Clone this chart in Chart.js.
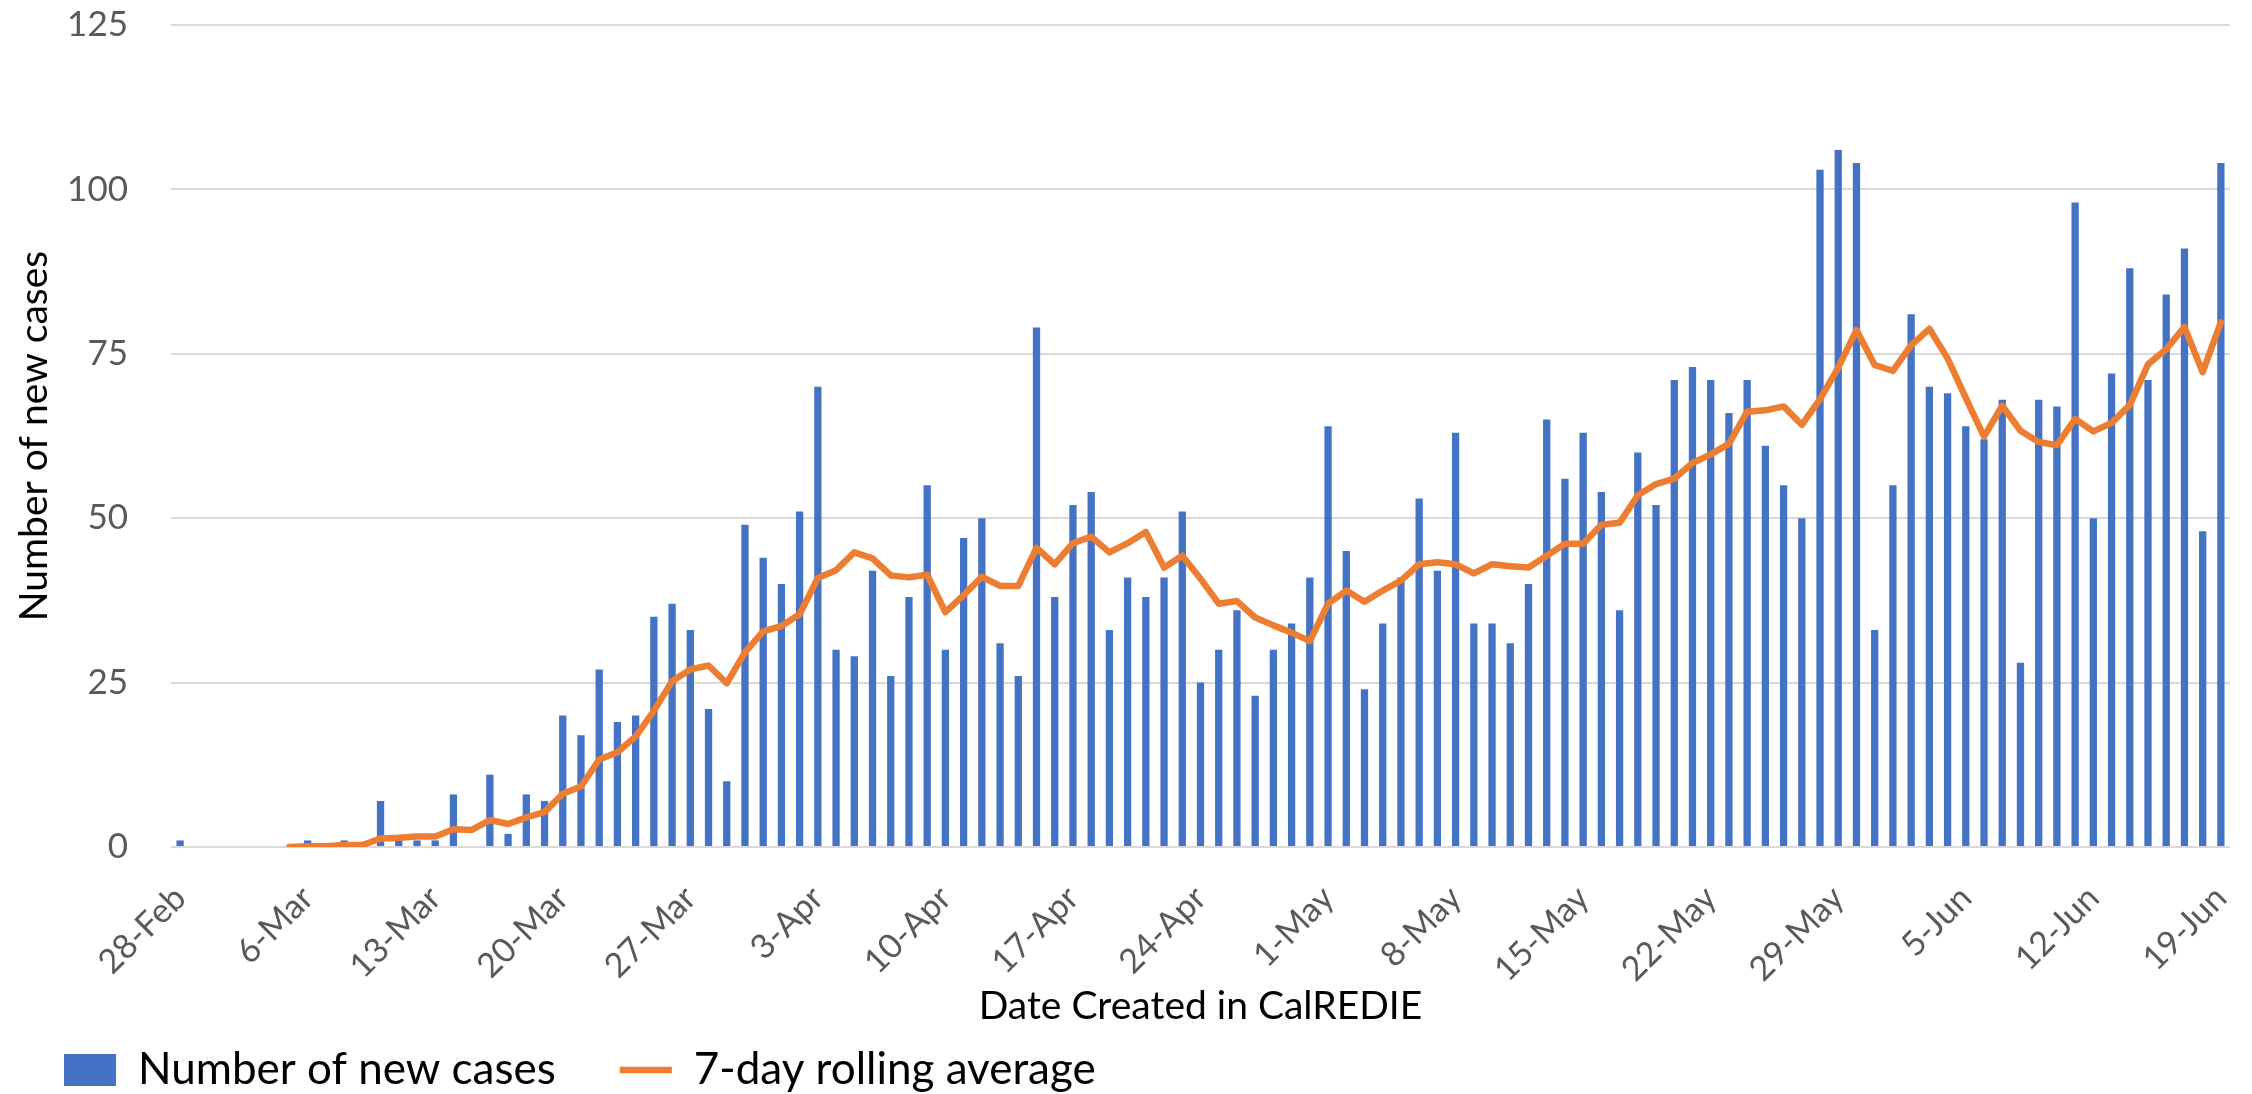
<!DOCTYPE html>
<html>
<head>
<meta charset="utf-8">
<title>New cases by date created</title>
<script src="https://cdn.jsdelivr.net/npm/chart.js@4.4.1/dist/chart.umd.min.js"></script>
<style>
  html, body { margin: 0; padding: 0; background: #fff; }
  #wrap { width: 2252px; height: 1094px; }
</style>
</head>
<body>
<div id="wrap"><canvas id="myChart"></canvas></div>
<script>
const dateLabels = [
  "28-Feb", "29-Feb",
  "1-Mar", "2-Mar", "3-Mar", "4-Mar", "5-Mar", "6-Mar", "7-Mar", "8-Mar", "9-Mar", "10-Mar",
  "11-Mar", "12-Mar", "13-Mar", "14-Mar", "15-Mar", "16-Mar", "17-Mar", "18-Mar", "19-Mar", "20-Mar",
  "21-Mar", "22-Mar", "23-Mar", "24-Mar", "25-Mar", "26-Mar", "27-Mar", "28-Mar", "29-Mar", "30-Mar", "31-Mar",
  "1-Apr", "2-Apr", "3-Apr", "4-Apr", "5-Apr", "6-Apr", "7-Apr", "8-Apr", "9-Apr", "10-Apr",
  "11-Apr", "12-Apr", "13-Apr", "14-Apr", "15-Apr", "16-Apr", "17-Apr", "18-Apr", "19-Apr", "20-Apr",
  "21-Apr", "22-Apr", "23-Apr", "24-Apr", "25-Apr", "26-Apr", "27-Apr", "28-Apr", "29-Apr", "30-Apr",
  "1-May", "2-May", "3-May", "4-May", "5-May", "6-May", "7-May", "8-May", "9-May", "10-May",
  "11-May", "12-May", "13-May", "14-May", "15-May", "16-May", "17-May", "18-May", "19-May", "20-May",
  "21-May", "22-May", "23-May", "24-May", "25-May", "26-May", "27-May", "28-May", "29-May", "30-May", "31-May",
  "1-Jun", "2-Jun", "3-Jun", "4-Jun", "5-Jun", "6-Jun", "7-Jun", "8-Jun", "9-Jun", "10-Jun",
  "11-Jun", "12-Jun", "13-Jun", "14-Jun", "15-Jun", "16-Jun", "17-Jun", "18-Jun", "19-Jun"
]

const newCases = [
  1, 0,
  0, 0, 0, 0, 0, 1, 0, 1, 0, 7, 1, 1, 1, 8, 0, 11, 2, 8, 7, 20, 17, 27, 19, 20, 35, 37, 33, 21, 10, 49, 44,
  40, 51, 70, 30, 29, 42, 26, 38, 55, 30, 47, 50, 31, 26, 79, 38, 52, 54, 33, 41, 38, 41, 51, 25, 30, 36, 23, 30, 34, 41,
  64, 45, 24, 34, 41, 53, 42, 63, 34, 34, 31, 40, 65, 56, 63, 54, 36, 60, 52, 71, 73, 71, 66, 71, 61, 55, 50, 103, 106, 104, 33,
  55, 81, 70, 69, 64, 62, 68, 28, 68, 67, 98, 50, 72, 88, 71, 84, 91, 48, 104
]

const rollingAvg = [
  null, null,
  null, null, null, null, 0, 0.1, 0.1, 0.3, 0.3, 1.3, 1.4, 1.6, 1.6, 2.7, 2.6, 4.1, 3.5, 4.5, 5.3, 8.1,
  9.2, 13.3, 14.4, 16.8, 20.7, 25.2, 27.0, 27.6, 24.9, 29.6, 32.8,
  33.6, 35.4, 40.9, 42.1, 44.8, 43.9, 41.3, 41.0, 41.4, 35.7, 38.3, 41.1, 39.7, 39.7, 45.5, 43.0, 46.2, 47.2, 44.8, 46.2,
  47.9, 42.5, 44.3, 40.8, 37.0, 37.4, 34.9, 33.7, 32.6, 31.3,
  37.0, 39.0, 37.3, 39.0, 40.5, 43.0, 43.3, 43.0, 41.6, 43.0, 42.7, 42.5, 44.3, 46.1, 46.1, 49.0, 49.3, 53.5, 55.2, 56.0,
  58.4, 59.7, 61.3, 66.2, 66.4, 67.0, 64.2, 68.1, 72.9, 78.6, 73.3,
  72.4, 76.3, 78.8, 74.3, 68.3, 62.4, 67.1, 63.3, 61.6, 61.1, 65.1, 63.2, 64.5, 67.2, 73.4, 75.7, 79.1, 72.2, 79.8
]

const yTicks = [0, 25, 50, 75, 100, 125]

window.addEventListener("load", () => {
  const font = "Lato"

  const data = {
    labels: dateLabels,
    datasets: [
      {
        type: "bar",
        label: "Number of new cases",
        data: newCases,
        backgroundColor: "#4472C4",
        borderWidth: 0,
        barPercentage: 0.4,
        categoryPercentage: 1,
        pointStyle: "rect",
        order: 1
      },
      {
        type: "line",
        label: "7-day rolling average",
        data: rollingAvg,
        borderColor: "#ED7D31",
        backgroundColor: "#ED7D31",
        borderWidth: 6.5,
        borderCapStyle: "round",
        borderJoinStyle: "round",
        pointRadius: 0,
        pointHoverRadius: 0,
        pointStyle: "line",
        tension: 0,
        order: 0 // line on top of bars
      }
    ]
  }

  const config = {
    data,
    options: {
      responsive: true,
      maintainAspectRatio: false,
      animation: false,
      layout: {
        padding: { top: 25, right: 22, bottom: -8, left: 0 }
      },
      plugins: {
        tooltip: { enabled: false },
        legend: {
          display: true,
          position: "bottom",
          align: "start",
          labels: {
            usePointStyle: true,
            pointStyleWidth: 52,
            boxHeight: 32,
            padding: 64,
            color: "#000",
            font: { family: font, size: 44 },
            sort: (a, b) => a.datasetIndex - b.datasetIndex
          }
        }
      },
      scales: {
        x: {
          grid: { display: false, drawTicks: false },
          border: { display: false },
          ticks: {
            autoSkip: false,
            minRotation: 45,
            maxRotation: 45,
            padding: 31,
            color: "#595959",
            font: { family: font, size: 34 },
            callback: (val, index) => index % 7 === 0 ? dateLabels[index] : ""
          },
          title: {
            display: true,
            text: "Date Created in CalREDIE",
            color: "#000",
            font: { family: font, size: 39 },
            padding: { top: 0, bottom: -46 }
          },
          // fixed box so the plot area matches the picture
          afterFit: scale => {
            scale.height = 137
            scale.paddingLeft = 0
            scale.paddingRight = 0
          }
        },
        y: {
          min: 0,
          max: 125,
          afterBuildTicks: scale => { scale.ticks = yTicks.map(v => ({ value: v })) },
          grid: { color: "#D9D9D9", lineWidth: 2, drawTicks: false },
          border: { display: false },
          ticks: {
            padding: 43,
            color: "#595959",
            font: { family: font, size: 35 }
          },
          title: {
            display: true,
            text: "Number of new cases",
            color: "#000",
            font: { family: font, size: 39 },
            padding: { top: 11, bottom: 0 }
          },
          afterFit: scale => {
            scale.width = 171
            scale.paddingTop = 21 // tick padding is horizontal only here
            scale.paddingBottom = 0
          }
        }
      }
    }
  }

  new Chart(document.getElementById("myChart"), config)
})
</script>
</body>
</html>
